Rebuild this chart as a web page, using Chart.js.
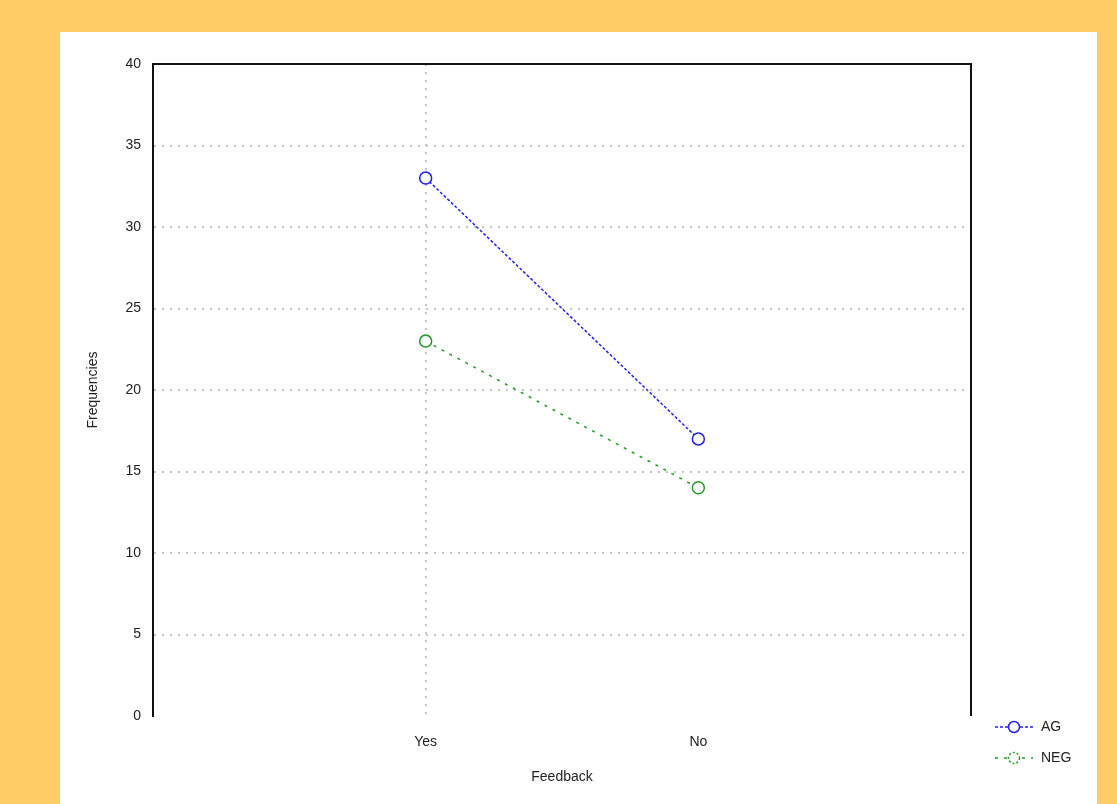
<!DOCTYPE html>
<html>
<head>
<meta charset="utf-8">
<script src="https://cdn.jsdelivr.net/npm/chart.js@4/dist/chart.umd.min.js"></script>
<style>
  html, body { margin: 0; padding: 0; background: #ffcc66; }
  #panel { position: absolute; left: 60px; top: 32px; width: 1037px; height: 772px; background: #fff; }
  #wrap { position: absolute; left: 0; top: 0; width: 1117px; height: 804px; }
</style>
</head>
<body>
<div id="panel"></div>
<div id="wrap"><canvas id="chart" width="1117" height="804"></canvas></div>
<script>
const categories = ['Yes', 'No'];
const agValues = [33, 17];
const negValues = [23, 14];
const yTicks = [0, 5, 10, 15, 20, 25, 30, 35, 40];

const toPoints = vals => vals.map((v, i) => ({ x: i + 1, y: v }));

// frame (top/right) and legend drawn as line + marker, beside the bottom right corner
const sideLegend = {
  id: 'sideLegend',
  afterDraw(chart) {
    const { ctx, chartArea } = chart;
    ctx.save();
    ctx.strokeStyle = '#111';
    ctx.lineWidth = 2;
    ctx.beginPath();
    ctx.moveTo(chartArea.left, chartArea.top);
    ctx.lineTo(chartArea.right, chartArea.top);
    ctx.lineTo(chartArea.right, chartArea.bottom);
    ctx.stroke();

    chart.data.datasets.forEach((ds, i) => {
      const y = chartArea.bottom + 11 + i * 31;
      const x0 = chartArea.right + 24;
      ctx.strokeStyle = ds.borderColor;
      ctx.lineWidth = 1.5;
      ctx.setLineDash(ds.borderDash);
      ctx.beginPath();
      ctx.moveTo(x0, y);
      ctx.lineTo(x0 + 38, y);
      ctx.stroke();
      ctx.setLineDash([]);
      ctx.fillStyle = '#fff';
      ctx.beginPath();
      ctx.arc(x0 + 19, y, 5.5, 0, Math.PI * 2);
      ctx.fill();
      ctx.setLineDash(i ? [2, 2] : []);
      ctx.stroke();
      ctx.setLineDash([]);
      ctx.fillStyle = '#222';
      ctx.font = '14px "Liberation Sans", Arial, sans-serif';
      ctx.textBaseline = 'middle';
      ctx.fillText(ds.label, x0 + 46, y);
    });
    ctx.restore();
  }
};

new Chart(document.getElementById('chart'), {
  type: 'line',
  data: {
    datasets: [{
      label: 'AG',
      data: toPoints(agValues),
      borderColor: '#1f1fee',
      borderWidth: 1.5,
      borderDash: [3, 2],
      pointRadius: 6,
      pointBorderWidth: 1.5,
      pointBackgroundColor: '#fff',
      pointBorderColor: '#1f1fee'
    }, {
      label: 'NEG',
      data: toPoints(negValues),
      borderColor: '#229922',
      borderWidth: 1.5,
      borderDash: [3, 6],
      pointRadius: 6,
      pointBorderWidth: 1.5,
      pointBackgroundColor: '#fff',
      pointBorderColor: '#229922'
    }]
  },
  options: {
    responsive: false,
    animation: false,
    layout: { padding: { left: 60, top: 64, right: 146, bottom: 0 } },
    plugins: { legend: { display: false }, tooltip: { enabled: false } },
    scales: {
      x: {
        type: 'linear',
        min: 0,
        max: 3,
        afterBuildTicks: s => { s.ticks = categories.map((c, i) => ({ value: i + 1 })); },
        afterFit: s => { s.height = 88; },
        ticks: {
          callback: v => categories[v - 1],
          color: '#222',
          padding: 18,
          font: { family: '"Liberation Sans", Arial, sans-serif', size: 14 }
        },
        grid: {
          drawTicks: false,
          color: c => c.tick && c.tick.value === 1 ? '#c4c4c4' : 'rgba(0,0,0,0)',
          lineWidth: 2
        },
        border: { display: false, dash: [2, 6] },
        title: {
          display: true,
          text: 'Feedback',
          color: '#222',
          padding: { top: 0, bottom: 18 },
          font: { family: '"Liberation Sans", Arial, sans-serif', size: 14 }
        }
      },
      y: {
        min: 0,
        max: 40,
        afterBuildTicks: s => { s.ticks = yTicks.map(v => ({ value: v })); },
        afterFit: s => { s.width = 93; },
        ticks: {
          color: '#222',
          padding: 12,
          font: { family: '"Liberation Sans", Arial, sans-serif', size: 14 }
        },
        grid: {
          drawTicks: false,
          color: c => c.tick && c.tick.value > 0 && c.tick.value < 40 ? '#c4c4c4' : 'rgba(0,0,0,0)',
          lineWidth: 2
        },
        border: { display: true, color: '#111', width: 2, dash: [2, 6] },
        title: {
          display: true,
          text: 'Frequencies',
          color: '#222',
          padding: { top: 25, bottom: 0 },
          font: { family: '"Liberation Sans", Arial, sans-serif', size: 14 }
        }
      }
    }
  },
  plugins: [sideLegend]
});
</script>
</body>
</html>
